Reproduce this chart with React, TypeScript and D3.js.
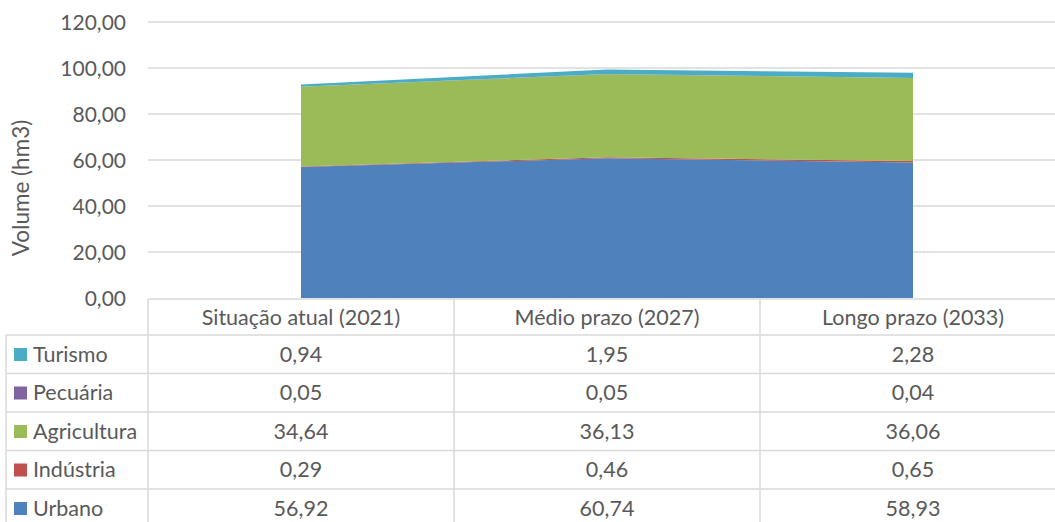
import React from "react";
import * as d3 from "d3";

const categories = ["Situação atual (2021)", "Médio prazo (2027)", "Longo prazo (2033)"];
const seriesNames = ["Urbano", "Indústria", "Agricultura", "Pecuária", "Turismo"];
const urbano = [56.92, 60.74, 58.93];
const industria = [0.29, 0.46, 0.65];
const agricultura = [34.64, 36.13, 36.06];
const pecuaria = [0.05, 0.05, 0.04];
const turismo = [0.94, 1.95, 2.28];
const yTicks = [0, 20, 40, 60, 80, 100, 120];
const colors = ["#4F81BD", "#C0504D", "#9BBB59", "#8064A2", "#4BACC6"];

const W = 1055;
const H = 522;
const font = "Lato, 'Open Sans', sans-serif";
const textColor = "#595959";
const lineColor = "#d9d9d9";

export default function App() {
  const valuesBySeries = [urbano, industria, agricultura, pecuaria, turismo];
  const rows = categories.map((c, i) => {
    const r: any = { cat: c };
    seriesNames.forEach((s, k) => (r[s] = valuesBySeries[k][i]));
    return r;
  });

  const x = d3.scaleBand<string>().domain(categories).range([148, 1066]);
  const cx = (c: string) => (x(c) as number) + x.bandwidth() / 2;
  const y = d3.scaleLinear().domain([0, 120]).range([298, 22]);

  const stacked = d3.stack<any>().keys(seriesNames)(rows);
  const area = d3
    .area<any>()
    .x((d) => cx(d.data.cat))
    .y0((d) => y(d[0]))
    .y1((d) => y(d[1]));

  const fmt = (v: number) => v.toFixed(2).replace(".", ",");

  // table layout
  const headTop = 299;
  const rowTop = 335;
  const rowH = 38.5;
  const tableRows = [...seriesNames].reverse();
  const tableBottom = rowTop + rowH * tableRows.length;
  const fs = 21.5;

  return (
    <div style={{ position: "absolute", left: 0, top: 0 }}>
      <svg width={W} height={H} style={{ display: "block", fontFamily: font }}>
        <rect width={W} height={H} fill="#fff" />
        {/* gridlines */}
        {yTicks.map((t) => (
          <g key={t}>
            {t > 0 && (
              <line x1={148} x2={W} y1={y(t)} y2={y(t)} stroke={lineColor} strokeWidth={1.5} />
            )}
            <text x={126} y={y(t)} dy="0.36em" textAnchor="end" fontSize={21} fill={textColor}>
              {fmt(t)}
            </text>
          </g>
        ))}
        <text
          transform={`translate(29,${y(60) + 28}) rotate(-90)`}
          textAnchor="middle"
          fontSize={22.5}
          fill={textColor}
        >
          Volume (hm3)
        </text>

        {/* areas */}
        {stacked.map((s, i) => (
          <path key={s.key} d={area(s) as string} fill={colors[i]} />
        ))}

        {/* data table */}
        <g stroke={lineColor} strokeWidth={1.5}>
          <line x1={148} x2={W} y1={headTop} y2={headTop} />
          {tableRows.map((_, i) => (
            <line key={i} x1={6} x2={W} y1={rowTop + i * rowH} y2={rowTop + i * rowH} />
          ))}
          <line x1={6} x2={W} y1={tableBottom} y2={tableBottom} />
          <line x1={6} x2={6} y1={rowTop} y2={tableBottom} />
          <line x1={148} x2={148} y1={headTop} y2={tableBottom} />
          {categories.map((c) => (
            <line key={c} x1={(x(c) as number) + x.bandwidth()} x2={(x(c) as number) + x.bandwidth()} y1={headTop} y2={tableBottom} />
          ))}
        </g>
        {categories.map((c) => (
          <text key={c} x={cx(c)} y={headTop + 26} textAnchor="middle" fontSize={fs} fill={textColor}>
            {c}
          </text>
        ))}
        {tableRows.map((name, i) => {
          const k = seriesNames.indexOf(name);
          const ty = rowTop + i * rowH;
          return (
            <g key={name}>
              <rect x={14} y={ty + 13} width={13} height={13} fill={colors[k]} />
              <text x={33} y={ty + 26.5} fontSize={fs} fill={textColor}>
                {name}
              </text>
              {categories.map((c, j) => (
                <text key={c} x={cx(c)} y={ty + 26.5} textAnchor="middle" fontSize={fs} fill={textColor}>
                  {fmt(valuesBySeries[k][j])}
                </text>
              ))}
            </g>
          );
        })}
      </svg>
    </div>
  );
}
